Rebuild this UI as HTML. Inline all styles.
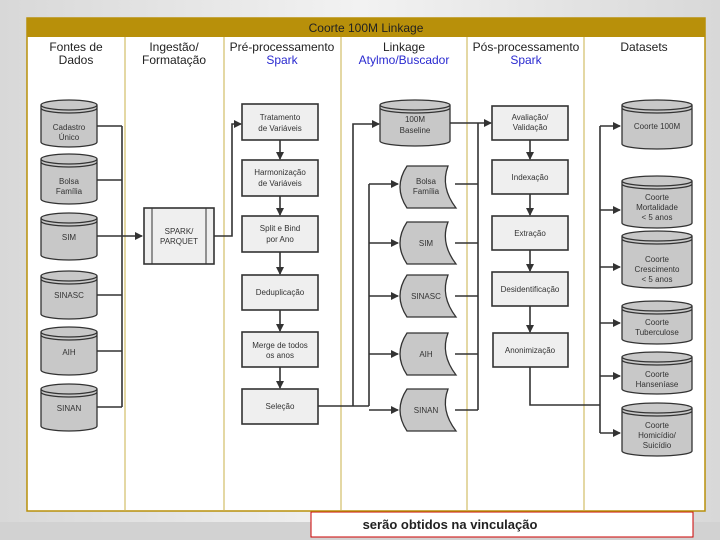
<!DOCTYPE html>
<html><head><meta charset="utf-8"><style>
html,body{margin:0;padding:0;width:720px;height:540px;overflow:hidden;background:#ececec;font-family:"Liberation Sans",sans-serif}
svg{display:block}
</style></head><body>
<svg width="720" height="540" viewBox="0 0 720 540" xmlns="http://www.w3.org/2000/svg" font-family="Liberation Sans, sans-serif">
<defs>
<linearGradient id="bg" x1="0" y1="0" x2="1" y2="0"><stop offset="0" stop-color="#d8d8d8"/><stop offset="0.5" stop-color="#f2f2f2"/><stop offset="1" stop-color="#d8d8d8"/></linearGradient>
<marker id="a" markerWidth="8" markerHeight="8" refX="7" refY="4" orient="auto" markerUnits="userSpaceOnUse"><path d="M0,0 L8,4 L0,8 Z" fill="#333"/></marker>
<clipPath id="cl"><rect x="300" y="519" width="400" height="20"/></clipPath>
</defs>
<rect width="720" height="540" fill="url(#bg)"/>
<rect x="0" y="522" width="720" height="18" fill="#d2d2d2"/>
<rect x="311" y="512" width="382" height="25" fill="#fff" stroke="#c00" stroke-width="1"/>
<text x="450" y="529" font-size="13" font-weight="bold" text-anchor="middle" fill="#222" clip-path="url(#cl)">serão obtidos na vinculação</text>
<rect x="27" y="18" width="678" height="493" fill="#fff" stroke="#b8900a" stroke-width="1.5"/>
<rect x="27" y="18" width="678" height="19" fill="#b8900a"/>
<text x="366" y="32" font-size="12" text-anchor="middle" fill="#222">Coorte 100M Linkage</text>
<g stroke="#c9b04a" stroke-width="1">
<line x1="125" y1="37" x2="125" y2="511"/><line x1="224" y1="37" x2="224" y2="511"/><line x1="341" y1="37" x2="341" y2="511"/><line x1="467" y1="37" x2="467" y2="511"/><line x1="584" y1="37" x2="584" y2="511"/>
</g>
<g font-size="12" text-anchor="middle" fill="#222">
<text x="76" y="51">Fontes de</text><text x="76" y="64">Dados</text>
<text x="174" y="51">Ingestão/</text><text x="174" y="64">Formatação</text>
<text x="282" y="51">Pré-processamento</text><text x="282" y="64" fill="#2a2ad0">Spark</text>
<text x="404" y="51">Linkage</text><text x="404" y="64" fill="#2a2ad0">Atylmo/Buscador</text>
<text x="526" y="51">Pós-processamento</text><text x="526" y="64" fill="#2a2ad0">Spark</text>
<text x="644" y="51">Datasets</text>
</g>
<g stroke="#333" stroke-width="1.6" fill="none">
<path d="M97,126 H122 M97,180 H122 M97,236 H122 M97,295 H122 M97,351 H122 M97,407 H122 M122,126 V407"/>
<path d="M122,236 H142" marker-end="url(#a)"/>
<path d="M214,236 H232 V124 H241" marker-end="url(#a)"/>
<path d="M280,140 V159" marker-end="url(#a)"/><path d="M280,196 V215" marker-end="url(#a)"/><path d="M280,252 V274" marker-end="url(#a)"/><path d="M280,310 V331" marker-end="url(#a)"/><path d="M280,367 V388" marker-end="url(#a)"/>
<path d="M318,406 H369 M353,406 V124 H379" marker-end="url(#a)"/>
<path d="M369,406 V184"/>
<path d="M369,184 H398" marker-end="url(#a)"/><path d="M369,243 H398" marker-end="url(#a)"/><path d="M369,296 H398" marker-end="url(#a)"/><path d="M369,354 H398" marker-end="url(#a)"/><path d="M369,410 H398" marker-end="url(#a)"/>
<path d="M450,123 H491" marker-end="url(#a)"/>
<path d="M455,184 H478 M455,243 H478 M455,296 H478 M455,354 H478 M455,410 H478 M478,123 V410"/>
<path d="M530,140 V159" marker-end="url(#a)"/><path d="M530,194 V215" marker-end="url(#a)"/><path d="M530,250 V271" marker-end="url(#a)"/><path d="M530,306 V332" marker-end="url(#a)"/>
<path d="M530,367 V405 H600 M600,126 V433"/>
<path d="M600,126 H620" marker-end="url(#a)"/><path d="M600,210 H620" marker-end="url(#a)"/><path d="M600,267 H620" marker-end="url(#a)"/><path d="M600,323 H620" marker-end="url(#a)"/><path d="M600,376 H620" marker-end="url(#a)"/><path d="M600,433 H620" marker-end="url(#a)"/>
</g>
<g stroke="#333" stroke-width="1.3" fill="#c8c8c8">
<path d="M41,105 v37 a28,5 0 0 0 56,0 v-37 a28,5 0 0 0 -56,0 a28,5 0 0 0 56,0 m-56,3 a28,5 0 0 0 56,0"/>
<path d="M41,159 v40 a28,5 0 0 0 56,0 v-40 a28,5 0 0 0 -56,0 a28,5 0 0 0 56,0 m-56,3 a28,5 0 0 0 56,0"/>
<path d="M41,218 v37 a28,5 0 0 0 56,0 v-37 a28,5 0 0 0 -56,0 a28,5 0 0 0 56,0 m-56,3 a28,5 0 0 0 56,0"/>
<path d="M41,276 v38 a28,5 0 0 0 56,0 v-38 a28,5 0 0 0 -56,0 a28,5 0 0 0 56,0 m-56,3 a28,5 0 0 0 56,0"/>
<path d="M41,332 v38 a28,5 0 0 0 56,0 v-38 a28,5 0 0 0 -56,0 a28,5 0 0 0 56,0 m-56,3 a28,5 0 0 0 56,0"/>
<path d="M41,389 v37 a28,5 0 0 0 56,0 v-37 a28,5 0 0 0 -56,0 a28,5 0 0 0 56,0 m-56,3 a28,5 0 0 0 56,0"/>
<path d="M380,105 v36 a35,5 0 0 0 70,0 v-36 a35,5 0 0 0 -70,0 a35,5 0 0 0 70,0 m-70,3 a35,5 0 0 0 70,0"/>
<path d="M622,105 v39 a35,5 0 0 0 70,0 v-39 a35,5 0 0 0 -70,0 a35,5 0 0 0 70,0 m-70,3 a35,5 0 0 0 70,0"/>
<path d="M622,181 v42 a35,5 0 0 0 70,0 v-42 a35,5 0 0 0 -70,0 a35,5 0 0 0 70,0 m-70,3 a35,5 0 0 0 70,0"/>
<path d="M622,236 v47 a35,5 0 0 0 70,0 v-47 a35,5 0 0 0 -70,0 a35,5 0 0 0 70,0 m-70,3 a35,5 0 0 0 70,0"/>
<path d="M622,306 v33 a35,5 0 0 0 70,0 v-33 a35,5 0 0 0 -70,0 a35,5 0 0 0 70,0 m-70,3 a35,5 0 0 0 70,0"/>
<path d="M622,357 v32 a35,5 0 0 0 70,0 v-32 a35,5 0 0 0 -70,0 a35,5 0 0 0 70,0 m-70,3 a35,5 0 0 0 70,0"/>
<path d="M622,408 v43 a35,5 0 0 0 70,0 v-43 a35,5 0 0 0 -70,0 a35,5 0 0 0 70,0 m-70,3 a35,5 0 0 0 70,0"/>
</g>
<g stroke="#333" stroke-width="1.3" fill="#c8c8c8">
<path d="M407,166 H448 Q440,187 456,208 H407 Q393,187 407,166 Z"/>
<path d="M407,222 H448 Q440,243 456,264 H407 Q393,243 407,222 Z"/>
<path d="M407,275 H448 Q440,296 456,317 H407 Q393,296 407,275 Z"/>
<path d="M407,333 H448 Q440,354 456,375 H407 Q393,354 407,333 Z"/>
<path d="M407,389 H448 Q440,410 456,431 H407 Q393,410 407,389 Z"/>
</g>
<g stroke="#333" stroke-width="1.6" fill="#efefef">
<rect x="144" y="208" width="70" height="56"/>
<rect x="242" y="104" width="76" height="36"/><rect x="242" y="160" width="76" height="36"/><rect x="242" y="216" width="76" height="36"/>
<rect x="242" y="275" width="76" height="35"/><rect x="242" y="332" width="76" height="35"/><rect x="242" y="389" width="76" height="35"/>
<rect x="492" y="106" width="76" height="34"/><rect x="492" y="160" width="76" height="34"/><rect x="492" y="216" width="76" height="34"/>
<rect x="492" y="272" width="76" height="34"/><rect x="493" y="333" width="75" height="34"/>
</g>
<g stroke="#333" stroke-width="1"><line x1="152" y1="208" x2="152" y2="264"/><line x1="206" y1="208" x2="206" y2="264"/></g>
<g font-size="8" text-anchor="middle" fill="#333">
<text x="69" y="130">Cadastro</text><text x="69" y="140">Único</text>
<text x="69" y="184">Bolsa</text><text x="69" y="194">Família</text>
<text x="69" y="240">SIM</text><text x="69" y="298">SINASC</text><text x="69" y="355">AIH</text><text x="69" y="411">SINAN</text>
<text x="179" y="234">SPARK/</text><text x="179" y="244">PARQUET</text>
<text x="280" y="120">Tratamento</text><text x="280" y="131">de Variáveis</text>
<text x="280" y="175">Harmonização</text><text x="280" y="186">de Variáveis</text>
<text x="280" y="231">Split e Bind</text><text x="280" y="242">por Ano</text>
<text x="280" y="295">Deduplicação</text>
<text x="280" y="348">Merge de todos</text><text x="280" y="358">os anos</text>
<text x="280" y="409">Seleção</text>
<text x="415" y="122">100M</text><text x="415" y="133">Baseline</text>
<text x="426" y="184">Bolsa</text><text x="426" y="194">Família</text>
<text x="426" y="246">SIM</text><text x="426" y="299">SINASC</text><text x="426" y="357">AIH</text><text x="426" y="413">SINAN</text>
<text x="530" y="120">Avaliação/</text><text x="530" y="130">Validação</text>
<text x="530" y="180">Indexação</text><text x="530" y="236">Extração</text><text x="530" y="292">Desidentificação</text><text x="530" y="353">Anonimização</text>
<text x="657" y="129">Coorte 100M</text>
<text x="657" y="200">Coorte</text><text x="657" y="210">Mortalidade</text><text x="657" y="220">&lt; 5 anos</text>
<text x="657" y="262">Coorte</text><text x="657" y="272">Crescimento</text><text x="657" y="282">&lt; 5 anos</text>
<text x="657" y="325">Coorte</text><text x="657" y="335">Tuberculose</text>
<text x="657" y="377">Coorte</text><text x="657" y="387">Hanseníase</text>
<text x="657" y="428">Coorte</text><text x="657" y="438">Homicídio/</text><text x="657" y="448">Suicídio</text>
</g>
</svg>
</body></html>
